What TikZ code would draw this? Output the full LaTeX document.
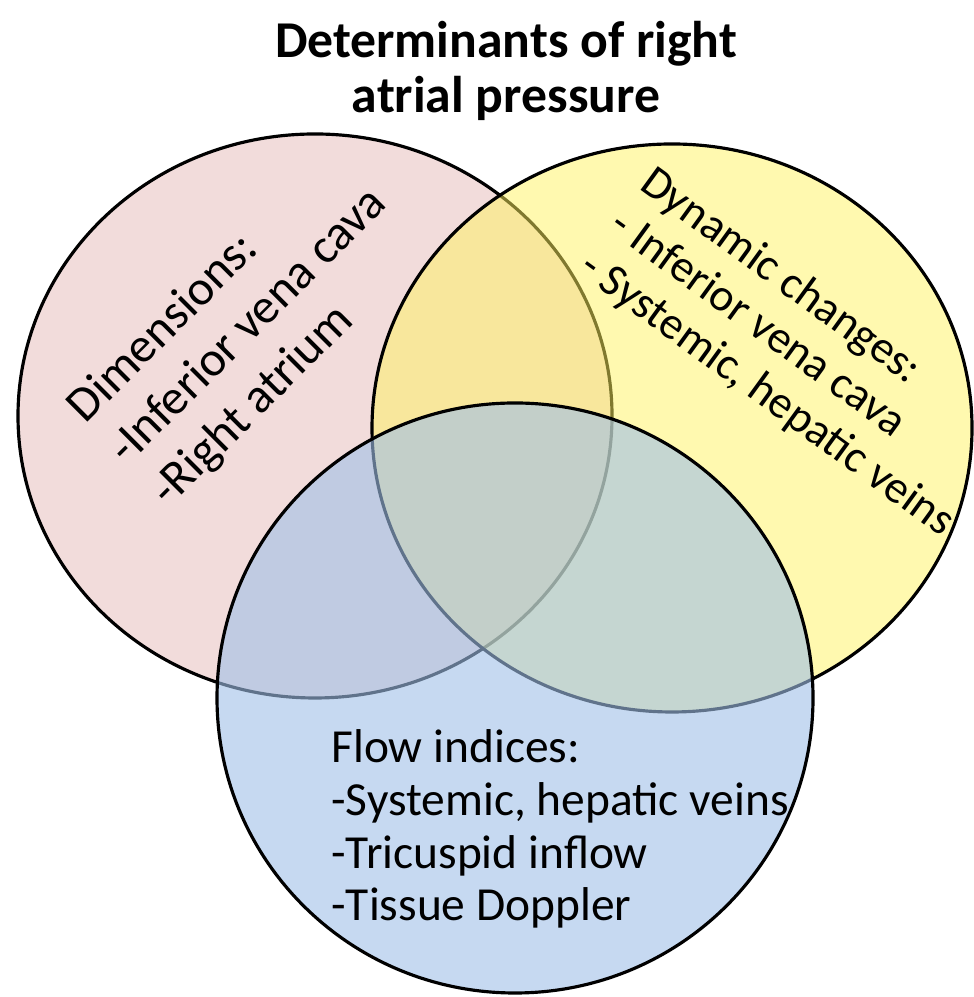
\documentclass[tikz,border=0pt]{standalone}
\usepackage{fontspec}
\setmainfont{Carlito}
\definecolor{pinkset}{RGB}{242,220,219}
\definecolor{yellowset}{RGB}{255,243,95}
\definecolor{blueset}{RGB}{160,192,232}
\begin{document}
\begin{tikzpicture}[
  set/.style={draw=black,line width=0.9pt},
  head/.style={font=\bfseries\fontsize{14.7}{15.8}\selectfont,align=center},
  txt/.style={align=left,inner sep=0pt,text=black}
]
\useasboundingbox (0,0) rectangle (9.73,9.97);
\draw[set,fill=pinkset] (3.15,5.81) ellipse [x radius=2.97,y radius=2.82];
\draw[set,fill=yellowset,fill opacity=0.5] (6.72,5.69) ellipse [x radius=3.00,y radius=2.84];
\draw[set,fill=blueset,fill opacity=0.6] (5.15,2.99) ellipse [x radius=2.98,y radius=2.95];

\node[head] (title) at (5.06,9.26) {Determinants of right\\atrial pressure};
\node[txt,rotate=45,font=\fontsize{14}{16.8}\selectfont] (dim) at (2.49,6.70)
  {Dimensions:\\-Inferior vena cava\\-Right atrium};
\node[txt,rotate=-36,font=\fontsize{13}{14.8}\selectfont] (dyn) at (7.97,6.44)
  {Dynamic changes:\\- Inferior vena cava\\- Systemic, hepatic veins};
\node[txt,font=\fontsize{13.5}{15}\selectfont] (flow) at (5.60,1.68)
  {Flow indices:\\-Systemic, hepatic veins\\-Tricuspid inflow\\-Tissue Doppler};
\end{tikzpicture}
\end{document}
